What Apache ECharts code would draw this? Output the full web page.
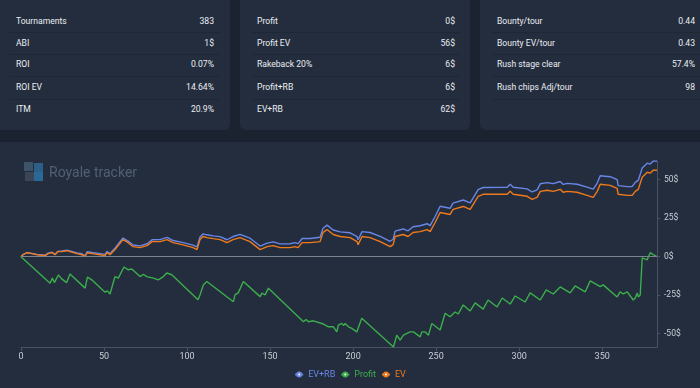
<!DOCTYPE html>
<html>
<head>
<meta charset="utf-8">
<script src="https://cdn.jsdelivr.net/npm/echarts@6/dist/echarts.min.js"></script>
<style>
  html, body { margin:0; padding:0; width:700px; height:388px; overflow:hidden; background:#1b2330; font-family:Roboto, "Noto Sans", sans-serif; }
  .panel { position:absolute; background:#232d3e; border-radius:6px; }
  .row { position:absolute; height:10px; line-height:10px; font-size:8.6px; color:#eceef2; }
  .row .lab { position:absolute; top:0; white-space:nowrap; }
  .row .val { position:absolute; top:0; text-align:right; white-space:nowrap; }
  .sep { position:absolute; height:1px; background:#1e2736; }
  #chart { position:absolute; left:0; top:142px; width:700px; height:246px; }
  #logo { position:absolute; left:24px; top:162px; width:120px; height:22px; z-index:5; }
  #logo .t { position:absolute; left:25px; top:0px; font-size:14px; color:#526073; white-space:nowrap; line-height:20px; }
</style>
</head>
<body>
<div class="panel" style="left:-6px;top:-6px;width:236px;height:136px;"></div>
<div class="panel" style="left:240px;top:-6px;width:230px;height:136px;"></div>
<div class="panel" style="left:480px;top:-6px;width:226px;height:136px;"></div>
<div class="panel" style="left:-6px;top:142px;width:712px;height:252px;"></div>
<div id="stats"></div>
<div id="chart"></div>
<div id="logo">
  <svg width="20" height="20" viewBox="0 0 20 20" style="position:absolute;left:0;top:0">
    <rect x="0" y="0" width="9" height="9" fill="#3d5468"/>
    <rect x="10" y="1" width="9" height="9" fill="#2b5f88"/>
    <rect x="1" y="10" width="9" height="9" fill="#3a4656"/>
    <rect x="10" y="10" width="9" height="9" fill="#2a6897"/>
  </svg>
  <div class="t">Royale tracker</div>
</div>
<script>
// ---- stat panels ----
const statLabels1 = ["Tournaments", "ABI", "ROI", "ROI EV", "ITM"];
const statValues1 = ["383", "1$", "0.07%", "14.64%", "20.9%"];
const statLabels2 = ["Profit", "Profit EV", "Rakeback 20%", "Profit+RB", "EV+RB"];
const statValues2 = ["0$", "56$", "6$", "6$", "62$"];
const statLabels3 = ["Bounty/tour", "Bounty EV/tour", "Rush stage clear", "Rush chips Adj/tour"];
const statValues3 = ["0.44", "0.43", "57.4%", "98"];

// ---- chart data: [tournament, $] ----
const seriesNames = ["EV+RB", "Profit", "EV"];
const xTicks = [0, 50, 100, 150, 200, 250, 300, 350];
const yTicks = [-50, -25, 0, 25, 50];

const evData = [
[0,0],[1.2,1.3],[3.6,2.6],[6.6,2.0],[9.6,1.3],[14.5,0.7],[16.3,2.0],[18.7,2.6],[20.5,1.3],[22.3,3.3],
[24.7,3.3],[27.7,3.9],[29.5,3.3],[33.7,2.0],[36.7,1.3],[38.6,0],[39.8,2.6],[42.8,2.0],[47.6,1.3],[50.6,0.7],
[51.8,2.6],[53.6,1.3],[56.6,4.6],[57.8,5.2],[61.4,11.1],[64.5,9.1],[67.5,6.5],[71.7,5.9],[75.9,7.2],[78.9,9.8],
[83.7,9.8],[88,11.1],[91.6,9.1],[97,7.8],[103.6,5.9],[106,4.6],[107.8,11.1],[109.6,13.1],[112,12.4],[115.7,11.7],
[119.9,11.1],[124.1,9.1],[127.7,11.1],[131.9,12.4],[137.9,9.8],[144,4.6],[148.2,6.5],[151.8,7.2],[156,5.9],[162,5.9],
[165,6.5],[166.9,5.9],[169.3,9.1],[174.1,9.1],[180.1,9.8],[181.9,15.7],[184.3,17.6],[188,14.4],[192.2,13.1],[198.2,12.4],
[202.4,9.8],[203,7.8],[205.4,13.1],[210.2,12.4],[216.3,9.8],[222.3,6.5],[224.1,7.8],[225.3,13.1],[230.1,14.4],[233.1,13.1],
[236.1,15.7],[240.4,16.3],[244.6,17.6],[246.4,16.3],[249.4,22.2],[252.4,28.7],[258.4,27.4],[260.2,30.7],[266.3,32.6],[270.5,30.7],
[275.3,39.2],[278.3,40.5],[288.6,40.5],[292.8,40.5],[294.6,42.4],[296.4,40.5],[304.8,39.2],[307.8,37.2],[310.8,38.5],[312.7,42.4],
[316.9,43.1],[320.5,42.4],[324.7,43.7],[326.5,41.8],[328.9,42.4],[334.9,41.8],[340.9,39.8],[344.6,38.5],[347,42.4],[348.8,47],
[354.8,46.3],[359,44.4],[359.6,40.5],[365.1,39.8],[368.1,39.8],[369.9,42.4],[371.7,43.7],[374.1,51.6],[377.1,54.8],[378.9,54.2],
[380.7,56.1],[383,56.1]
];

const evRbData = [
[0,0],[1.2,1.3],[3.6,2.7],[6.6,2.1],[9.6,1.5],[14.5,0.9],[16.3,2.3],[18.7,2.9],[20.5,1.6],[22.3,3.6],
[24.7,3.7],[27.7,4.3],[29.5,3.8],[33.7,2.5],[36.7,1.9],[38.6,0.6],[39.8,3.2],[42.8,2.7],[47.6,2.0],[50.6,1.5],
[51.8,3.4],[53.6,2.1],[56.6,5.5],[57.8,6.1],[61.4,12.1],[64.5,10.1],[67.5,7.6],[71.7,7.0],[75.9,8.4],[78.9,11.0],
[83.7,11.1],[88,12.5],[91.6,10.5],[97,9.3],[103.6,7.5],[106,6.3],[107.8,12.8],[109.6,14.8],[112,14.2],[115.7,13.5],
[119.9,13.0],[124.1,11.0],[127.7,13.1],[131.9,14.5],[137.9,12.0],[144,6.9],[148.2,8.8],[151.8,9.6],[156,8.3],[162,8.4],
[165,9.1],[166.9,8.5],[169.3,11.8],[174.1,11.8],[180.1,12.6],[181.9,18.5],[184.3,20.5],[188,17.3],[192.2,16.1],[198.2,15.5],
[202.4,13.0],[203,11.0],[205.4,16.3],[210.2,15.7],[216.3,13.2],[222.3,10.0],[224.1,11.3],[225.3,16.6],[230.1,18.0],[233.1,16.8],
[236.1,19.4],[240.4,20.1],[244.6,21.4],[246.4,20.2],[249.4,26.1],[252.4,32.7],[258.4,31.4],[260.2,34.8],[266.3,36.8],[270.5,34.9],
[275.3,43.5],[278.3,44.9],[288.6,45.0],[292.8,45.1],[294.6,47.0],[296.4,45.1],[304.8,44.0],[307.8,42.0],[310.8,43.4],[312.7,47.3],
[316.9,48.1],[320.5,47.4],[324.7,48.8],[326.5,46.9],[328.9,47.6],[334.9,47.0],[340.9,45.1],[344.6,43.9],[347,47.8],[348.8,52.5],
[354.8,51.9],[359,50.0],[359.6,46.1],[365.1,45.5],[368.1,45.6],[369.9,48.2],[371.7,49.5],[374.1,57.5],[377.1,60.7],[378.9,60.1],
[380.7,62.1],[383,62.1]
];

const profitData = [
[0,0],[17.5,-17.2],[18.9,-13.9],[20.1,-16.8],[22.5,-11.9],[24.5,-14.4],[25.5,-13.5],[27.5,-16.8],[29.5,-11.3],[38.6,-20.4],
[40,-13.2],[42.6,-15],[50.6,-23],[52,-22.2],[53.6,-24.2],[56.6,-12.9],[58.6,-13.9],[59.3,-14.7],[62,-6.7],[64.6,-8.5],
[66.7,-8],[71.7,-12.9],[73.7,-11.4],[75.7,-12.9],[79.7,-13.9],[82.7,-15],[85.7,-12.9],[87.8,-10.6],[88.7,-10.2],[90.8,-11.7],
[106.6,-27.9],[107.8,-24.8],[109.8,-18.3],[111.9,-16.1],[112.8,-15],[127.9,-29.2],[128.9,-24.8],[130.9,-23.3],[132,-24.2],[133.9,-16.1],
[144,-25.9],[145,-23.7],[147,-24.8],[149,-20.4],[170.1,-42.2],[171.7,-40.7],[173.1,-42.2],[176.1,-41.6],[182.1,-43.7],[185.1,-45.5],
[188.1,-45.5],[190.2,-48.8],[191.1,-44.4],[193.2,-43.3],[194.3,-44.7],[195.2,-43.3],[197.2,-45.5],[199.2,-46.5],[202.2,-48.8],[205.2,-40],
[224.3,-58.6],[226.3,-50.9],[228.3,-54.2],[230.3,-50.9],[234.3,-48.8],[236.3,-48.8],[240.4,-52],[241.4,-48.8],[243.4,-48.8],[245.4,-50.9],
[247.4,-43.3],[252.4,-47.6],[255.4,-36.7],[258.4,-39],[261.4,-35.9],[263.3,-37.2],[266.3,-31.3],[270.5,-35.2],[273.5,-30.0],[278.3,-34.0],
[281.3,-28.1],[286.7,-32.6],[289.8,-26.8],[294.6,-30.7],[297.6,-25.5],[303.6,-29.4],[306.6,-23.5],[312.7,-28.1],[316.3,-21.5],[320.5,-24.2],
[324.7,-19.6],[330.7,-23.5],[333.7,-19.0],[339.8,-22.8],[342.8,-15.7],[348.8,-19.4],[350.6,-18.3],[359,-26.1],[360.8,-22.8],
[362.7,-24.2],[365.1,-22.8],[368.7,-28.1],[369.9,-26.8],[371.1,-23.5],[371.7,-26.1],[372.9,-24.8],[374.1,-0.7],[374.7,0],[377.1,-2],
[378.9,2.6],[380.7,1.3],[383,0]
];

// build stat panels
function buildPanel(labels, values, labX, valRight, sepL, sepR) {
  const host = document.getElementById('stats');
  const rowY = [15.7, 37.7, 59.3, 81.7, 104];
  labels.forEach((l, i) => {
    const d = document.createElement('div');
    d.className = 'row';
    d.style.top = rowY[i] + 'px';
    d.style.left = '0px';
    d.style.width = '700px';
    d.innerHTML = '<span class="lab" style="left:' + labX + 'px">' + l + '</span>' +
      '<span class="val" style="right:' + (700 - valRight) + 'px">' + values[i] + '</span>';
    host.appendChild(d);
  });
  [31.5, 54, 75.5, 98.5].forEach(y => {
    const s = document.createElement('div');
    s.className = 'sep';
    s.style.top = Math.round(y) + 'px';
    s.style.left = sepL + 'px';
    s.style.width = (sepR - sepL) + 'px';
    host.appendChild(s);
  });
}
buildPanel(statLabels1, statValues1, 16, 214, 10, 220);
buildPanel(statLabels2, statValues2, 257, 455, 252, 460);
buildPanel(statLabels3, statValues3, 497, 695, 492, 700);

const colors = ['#6a86e6', '#3cae4c', '#ee7a1c'];
const chart = echarts.init(document.getElementById('chart'), null, {renderer: 'canvas'});
chart.setOption({
  animation: false,
  backgroundColor: 'transparent',
  color: colors,
  grid: { left: 21, right: 43, top: 19, bottom: 41 },
  legend: {
    top: 223,
    left: 'center',
    itemWidth: 8,
    itemHeight: 5,
    itemGap: 5,
    textStyle: { fontSize: 9, fontFamily: 'Roboto' },
    data: seriesNames.map((n, i) => ({ name: n, textStyle: { color: colors[i] } }))
  },
  xAxis: {
    type: 'value',
    min: 0,
    max: 383,
    splitLine: { show: false },
    axisLine: { onZero: false, lineStyle: { color: '#4a5363' } },
    axisTick: { customValues: xTicks, length: 4, lineStyle: { color: '#4a5363' } },
    axisLabel: { customValues: xTicks, color: '#c9ced6', fontSize: 9, fontFamily: 'Roboto', margin: 5 }
  },
  yAxis: {
    type: 'value',
    position: 'right',
    min: 'dataMin',
    max: 'dataMax',
    splitLine: { show: false },
    axisLine: { show: true, onZero: false, lineStyle: { color: '#4a5363' } },
    axisTick: { show: true, customValues: yTicks, length: 3, lineStyle: { color: '#4a5363' } },
    axisLabel: { customValues: yTicks, color: '#c9ced6', fontSize: 8.5, fontFamily: 'Roboto', margin: 7,
      formatter: v => v + '$' }
  },
  series: [
    { name: seriesNames[0], type: 'line', data: evRbData, symbol: 'emptyCircle', symbolSize: 4, showSymbol: false,
      lineStyle: { width: 1.4 } },
    { name: seriesNames[1], type: 'line', data: profitData, symbol: 'emptyCircle', symbolSize: 4, showSymbol: false,
      lineStyle: { width: 1.4 },
      markLine: { silent: true, symbol: 'none', label: { show: false },
        lineStyle: { color: '#7d838d', type: 'solid', width: 1 }, data: [{ yAxis: 0 }] } },
    { name: seriesNames[2], type: 'line', data: evData, symbol: 'emptyCircle', symbolSize: 4, showSymbol: false,
      lineStyle: { width: 1.4 } }
  ]
});
</script>
</body>
</html>
